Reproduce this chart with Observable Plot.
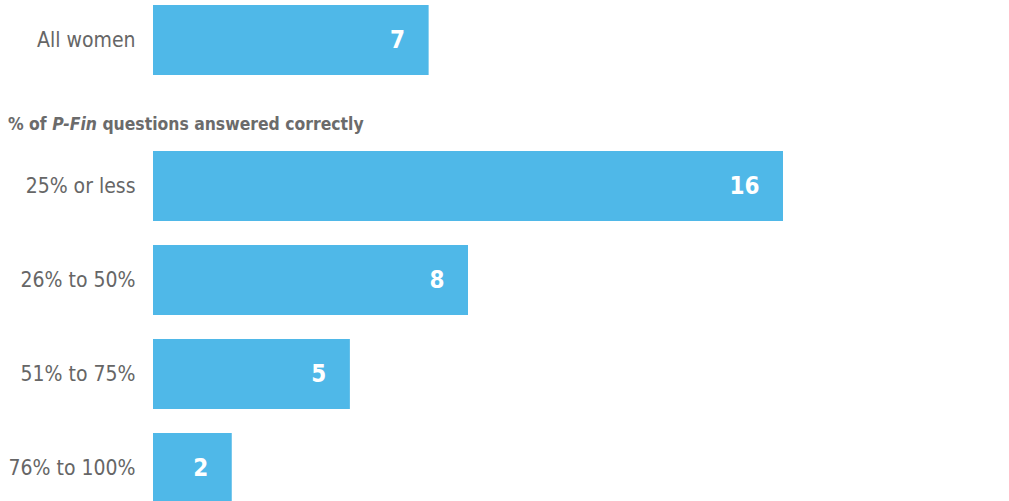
<!DOCTYPE html>
<html><head><meta charset="utf-8">
<script src="https://cdn.jsdelivr.net/npm/d3@7"></script>
<script src="https://cdn.jsdelivr.net/npm/@observablehq/plot@0.6"></script>
<style>
html,body{margin:0;padding:0;background:#fff;overflow:hidden;width:1009px;height:501px;}
#header{height:66px;position:relative;font-family:"Liberation Sans Narrow","DejaVu Sans Condensed","Roboto",sans-serif;}
svg{display:block;}
</style></head>
<body>
<div id="top"></div>
<div id="header"><div id="htxt" style="position:absolute;left:8px;top:34px;font-size:17.4px;font-weight:bold;color:#6b6b6b;white-space:nowrap;">% of <i>P-Fin</i> questions answered correctly</div></div>
<div id="bottom"></div>
<script>
const totalCategory = ["All women"];
const totalValue = [7];
const groupCategories = ["25% or less", "26% to 50%", "51% to 75%", "76% to 100%"];
const groupValues = [16, 8, 5, 2];

const barColor = "#4fb8e8";
const labelColor = "#666666";
const fontFam = '"Liberation Sans Narrow","DejaVu Sans Condensed",Roboto,sans-serif';

function makePlot(cats, vals, opts) {
  const data = cats.map((c, i) => ({cat: c, val: vals[i]}));
  return Plot.plot({
    width: 1009,
    height: opts.height,
    marginLeft: 153,
    marginRight: 226,
    marginTop: 5,
    marginBottom: opts.marginBottom,
    style: {fontFamily: fontFam, background: "#fff"},
    x: {domain: [0, 16], axis: null},
    y: {domain: cats, paddingInner: opts.padding, paddingOuter: 0, label: null, tickSize: 0, tickPadding: 18},
    marks: [
      Plot.barX(data, {x: "val", y: "cat", fill: barColor}),
      Plot.text(data, {x: "val", y: "cat", text: d => String(d.val), textAnchor: "end", dx: -24, fill: "white", fontSize: 24, fontWeight: 600}),
      Plot.axisY({tickSize: 0, tickPadding: 18, fontSize: 21, color: labelColor, label: null})
    ]
  });
}

document.getElementById("top").append(makePlot(totalCategory, totalValue, {height: 80, marginBottom: 5, padding: 0}));
document.getElementById("bottom").append(makePlot(groupCategories, groupValues, {height: 357, marginBottom: 0, padding: 24/94}));
</script>
</body></html>
